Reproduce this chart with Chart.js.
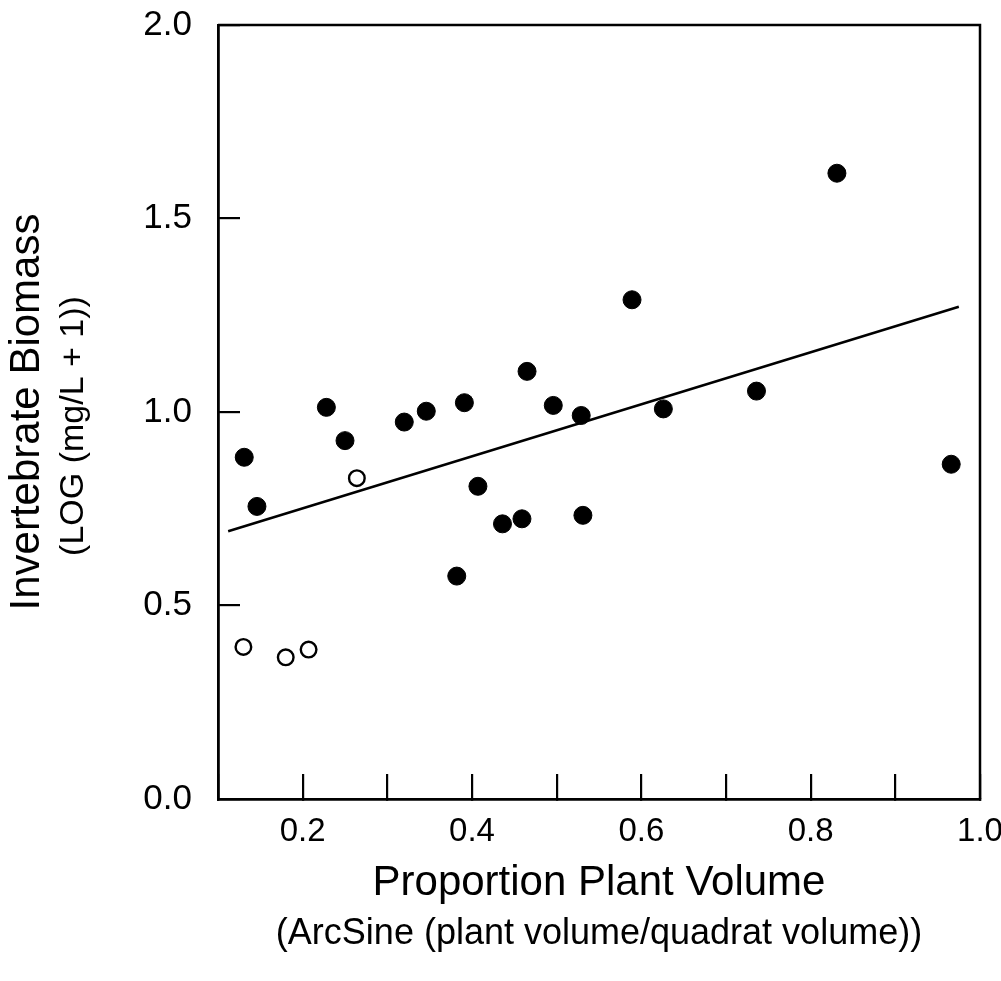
<!DOCTYPE html>
<html>
<head>
<meta charset="utf-8">
<title>Invertebrate Biomass vs Plant Volume</title>
<script src="https://cdn.jsdelivr.net/npm/chart.js@4/dist/chart.umd.min.js"></script>
<style>
    html, body { margin: 0; padding: 0; background: #fff; }
    #wrap { width: 1001px; height: 981px; position: relative; }
</style>
</head>
<body>
<div id="wrap"><canvas id="plot"></canvas></div>
<script>
// -------------------------------
// DATA
// -------------------------------
const filledX = [0.131, 0.146, 0.228, 0.250, 0.320, 0.346, 0.391, 0.382, 0.407, 0.436,
                 0.459, 0.465, 0.496, 0.529, 0.531, 0.589, 0.626, 0.736, 0.831, 0.966];
const filledY = [0.883, 0.756, 1.012, 0.926, 0.974, 1.002, 1.024, 0.576, 0.808, 0.711,
                 0.724, 1.105, 1.017, 0.991, 0.733, 1.290, 1.008, 1.054, 1.617, 0.865];

const openX = [0.130, 0.180, 0.207, 0.264];
const openY = [0.393, 0.366, 0.386, 0.829];

// regression line end points
const fitX = [0.112, 0.975];
const fitY = [0.692, 1.272];

const xTitle = "Proportion Plant Volume";
const xSubTitle = "(ArcSine (plant volume/quadrat volume))";
const yTitle = "Invertebrate Biomass";
const ySubTitle = "(LOG (mg/L + 1))";

const FONT = "'Liberation Sans', Arial, Helvetica, sans-serif";

function toPoints(xs, ys) {
    return xs.map((x, i) => ({ x: x, y: ys[i] }));
}

// frame on top/right + two-line axis titles
const framePlugin = {
    id: "frame",
    afterDraw(chart) {
        const ctx = chart.ctx;
        const a = chart.chartArea;
        ctx.save();
        ctx.strokeStyle = "#000";
        ctx.lineWidth = 2.5;
        ctx.beginPath();
        ctx.moveTo(a.left, a.top);
        ctx.lineTo(a.right, a.top);
        ctx.lineTo(a.right, a.bottom);
        ctx.stroke();

        ctx.fillStyle = "#000";
        ctx.textAlign = "center";
        ctx.textBaseline = "middle";
        const cx = (a.left + a.right) / 2;
        ctx.font = "42px " + FONT;
        ctx.fillText(xTitle, cx, 883);
        ctx.font = "36px " + FONT;
        ctx.fillText(xSubTitle, cx, 934);

        ctx.translate(27, 412);
        ctx.rotate(-Math.PI / 2);
        ctx.font = "42px " + FONT;
        ctx.fillText(yTitle, 0, 0);
        ctx.restore();

        ctx.save();
        ctx.fillStyle = "#000";
        ctx.textAlign = "center";
        ctx.textBaseline = "middle";
        ctx.translate(74, 426);
        ctx.rotate(-Math.PI / 2);
        ctx.font = "34px " + FONT;
        ctx.fillText(ySubTitle, 0, 0);
        ctx.restore();
    }
};

Chart.defaults.font.family = FONT;
Chart.defaults.color = "#000";

const chart = new Chart(document.getElementById("plot"), {
    type: "scatter",
    data: {
        datasets: [
            {
                label: "fit",
                type: "line",
                data: toPoints(fitX, fitY),
                borderColor: "#000",
                borderWidth: 2.5,
                pointRadius: 0,
                fill: false,
                order: 3
            },
            {
                label: "filled",
                data: toPoints(filledX, filledY),
                backgroundColor: "#000",
                borderColor: "#000",
                borderWidth: 1,
                pointRadius: 9,
                order: 1
            },
            {
                label: "open",
                data: toPoints(openX, openY),
                backgroundColor: "#fff",
                borderColor: "#000",
                borderWidth: 2.4,
                pointRadius: 7.8,
                order: 2
            }
        ]
    },
    options: {
        responsive: true,
        maintainAspectRatio: false,
        animation: false,
        layout: { padding: { top: 25, right: 21, left: 0, bottom: 0 } },
        plugins: {
            legend: { display: false },
            tooltip: { enabled: false }
        },
        scales: {
            x: {
                type: "linear",
                min: 0.1,
                max: 1.0,
                border: { display: true, color: "#000", width: 2.8 },
                grid: {
                    drawOnChartArea: false,
                    drawTicks: true,
                    tickLength: -25,
                    color: "#000",
                    lineWidth: 2.2
                },
                ticks: {
                    stepSize: 0.1,
                    autoSkip: false,
                    maxRotation: 0,
                    padding: 38,
                    font: { size: 33 },
                    callback: (v) => (Math.round(v * 10) % 2 === 0 ? v.toFixed(1) : "")
                },
                afterFit: (s) => {
                    s.height = 182;
                    s.paddingLeft = 0;
                    s.paddingRight = 0;
                }
            },
            y: {
                type: "linear",
                min: 0,
                max: 2,
                border: { display: true, color: "#000", width: 2.8 },
                grid: {
                    drawOnChartArea: false,
                    drawTicks: true,
                    tickLength: -22,
                    color: "#000",
                    lineWidth: 2.2
                },
                ticks: {
                    stepSize: 0.5,
                    padding: 48,
                    font: { size: 35 },
                    callback: (v) => v.toFixed(1)
                },
                afterFit: (s) => {
                    s.width = 218;
                    s.paddingTop = 0;
                    s.paddingBottom = 0;
                }
            }
        }
    },
    plugins: [framePlugin]
});
</script>
</body>
</html>
